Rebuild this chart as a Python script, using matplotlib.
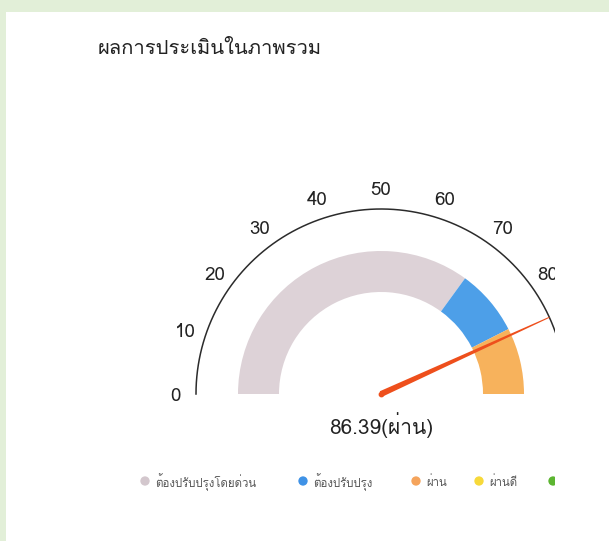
import numpy as np
import matplotlib
matplotlib.use('Agg')
import matplotlib.pyplot as plt
from matplotlib import font_manager
from matplotlib.ft2font import FT2Font
from matplotlib.patches import Wedge, Rectangle, Polygon

# ข้อมูลของเกจ
title = 'ผลการประเมินในภาพรวม'
score = 86.39
score_label = '86.39(ผ่าน)'
ticks = [0, 10, 20, 30, 40, 50, 60, 70, 80, 90, 100]
band_names = ['ต้องปรับปรุงโดยด่วน', 'ต้องปรับปรุง', 'ผ่าน', 'ผ่านดี', 'ดีมาก']
band_start = [0, 70, 85, 100, 100]
band_end = [70, 85, 100, 100, 100]
band_colors = ['#ddd2d7', '#4d9fe8', '#f7b25c', '#f8da3c', '#5cb531']
legend_colors = ['#d3c7cd', '#3f92e6', '#f5a45c', '#f7d93a', '#5cb531']

# หา font ที่มีตัวอักษรไทย
thai_font = None
for f in font_manager.fontManager.ttflist:
    try:
        if 0x0E1C in FT2Font(f.fname).get_charmap():
            thai_font = f.name
            break
    except Exception:
        pass
fams = [thai_font, 'DejaVu Sans'] if thai_font else ['DejaVu Sans']
plt.rcParams['font.family'] = fams

W, H = 609, 541
fig = plt.figure(figsize=(W / 100, H / 100), dpi=100)
fig.patch.set_facecolor('#e2efd8')
fig.patches.append(Rectangle((6 / W, 0), 1, (H - 12) / H, transform=fig.transFigure,
                             facecolor='white', edgecolor='none', zorder=-5))

# พื้นที่วาดถูกตัดขอบขวาที่ x=555
ax = fig.add_axes([0, 0, 555 / W, 1])
ax.set_xlim(0, 555)
ax.set_ylim(0, H)
ax.axis('off')
ax.set_zorder(2)

cx, cy = 381, H - 394
r_arc, r_lab = 185, 206
r_out, r_w = 143, 41


def ang(v):
    return 180 - v * 1.8


# เส้นโค้งด้านนอก
vv = np.linspace(0, 100, 300)
ax.plot(cx + r_arc * np.cos(np.radians(ang(vv))), cy + r_arc * np.sin(np.radians(ang(vv))),
        color='#2b2b2b', lw=1.1, clip_on=True)

for t in ticks:
    a = np.radians(ang(t))
    ax.text(cx + r_lab * np.cos(a), cy + r_lab * np.sin(a) - 2, str(t), fontsize=13.5,
            color='#222222', ha='center', va='center', clip_on=True)

# แถบสี
for s, e, c in zip(band_start, band_end, band_colors):
    if e > s:
        ax.add_patch(Wedge((cx, cy), r_out, ang(e), ang(s), width=r_w,
                           facecolor=c, edgecolor='none'))

# เข็ม
a = np.radians(ang(score))
n = np.array([-np.sin(a), np.cos(a)])
d = np.array([np.cos(a), np.sin(a)])
c0 = np.array([cx, cy])
tip = c0 + d * r_arc
pts = [c0 + n * 3.0, tip + n * 0.5, tip - n * 0.5, c0 - n * 3.0]
ax.add_patch(Polygon(pts, closed=True, facecolor='#ee4f1c', edgecolor='none', zorder=5))
ax.scatter([cx], [cy], s=10, color='#ee4f1c', zorder=5)

ax.text(cx, H - 425, score_label, fontsize=15, color='#222222', ha='center', va='center')

fig.text(98 / W, (H - 48) / H, title, fontsize=14.5, color='#222222', ha='left', va='center')

# คำอธิบายสี
dot_x = [145, 303, 416, 479, 553]
for x, c, name in zip(dot_x, legend_colors, band_names):
    ax.scatter([x], [H - 481], s=45, color=c, edgecolors='none', clip_on=True)
    ax.text(x + 10, H - 482, name, fontsize=8.2, color='#555555', ha='left', va='center',
            clip_on=True)

fig.savefig('out.png', dpi=100)
